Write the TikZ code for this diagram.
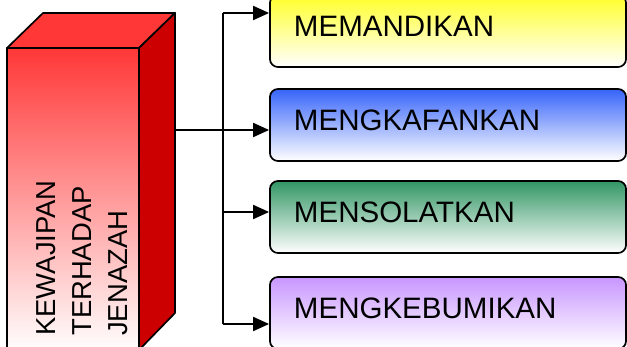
\documentclass[tikz,border=0pt]{standalone}
\usepackage{fontspec}
\setmainfont{Liberation Sans}
\usetikzlibrary{arrows.meta}

\definecolor{cubered}{RGB}{255,55,55}
\definecolor{cubedark}{RGB}{204,0,0}
\definecolor{boxyellow}{RGB}{255,255,40}
\definecolor{boxblue}{RGB}{55,100,250}
\definecolor{boxgreen}{RGB}{50,150,100}
\definecolor{boxpurple}{RGB}{200,150,255}

\begin{document}
\begin{tikzpicture} [x = 0.025cm, y = -0.025cm,
  face/.style = {draw = black, line width = 1.2pt, line join = round},
  task/.style = {draw = black, line width = 1.2pt, rounded corners = 0.2cm,
    bottom color = white, minimum width = 8.9cm, minimum height = 1.8cm,
    text width = 7.7cm, inner xsep = 0.6cm, inner ysep = 0pt, align = left,
    text depth = 0.25cm, font = \fontsize{21}{24}\selectfont},
  link/.style = {black, line width = 1.3pt},
  arr/.style = {link, -{Triangle[length = 0.4cm, width = 0.35cm]}}]
\useasboundingbox (0, 0) rectangle (627, 347);
\clip (0, 0) rectangle (627, 347);
% the block on the left
\path[face, fill = cubered] (7, 48) -- (43, 13) -- (175, 13) -- (139, 48) -- cycle;
\path[face, fill = cubedark] (139, 48) -- (175, 13) -- (175, 313) -- (139, 350) -- cycle;
\path[face, top color = cubered, bottom color = white] (7, 48) rectangle (139, 352);
\node[rotate = 90, anchor = north west, align = left, inner sep = 0pt,
  font = \fontsize{19.5}{25.6}\selectfont] (duty) at (36, 336)
  {KEWAJIPAN\\TERHADAP\\JENAZAH};
% the four boxes
\node[task, top color = boxyellow] (b1) at (448, 31) {MEMANDIKAN};
\node[task, top color = boxblue] (b2) at (448, 125) {MENGKAFANKAN};
\node[task, top color = boxgreen] (b3) at (448, 217) {MENSOLATKAN};
\node[task, top color = boxpurple] (b4) at (448, 313) {MENGKEBUMIKAN};
% connectors
\coordinate (out) at (175, 130);
\coordinate (j1) at (223, 13);
\coordinate (j3) at (223, 212);
\coordinate (j4) at (223, 324);
\draw[link] (j1) -- (j4);
\draw[arr] (out) -- (out -| b2.west);
\draw[arr] (j1) -- (j1 -| b1.west);
\draw[arr] (j3) -- (j3 -| b3.west);
\draw[arr] (j4) -- (j4 -| b4.west);
\end{tikzpicture}
\end{document}
